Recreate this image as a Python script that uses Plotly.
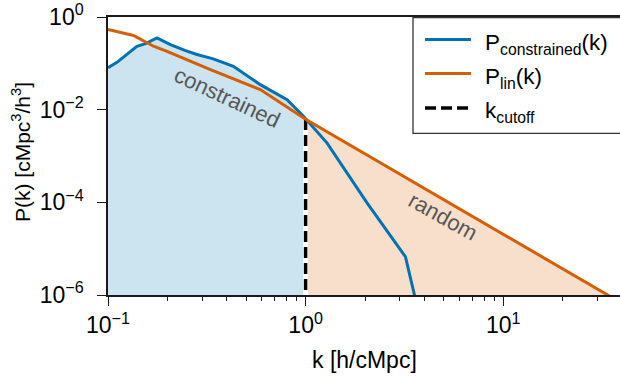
import plotly.graph_objects as go

# ---- data ----
k_con = [0.100, 0.111, 0.140, 0.155, 0.177, 0.207, 0.245, 0.282, 0.341, 0.431,
         0.590, 0.806, 0.975, 1.000, 1.285, 2.05, 3.20, 3.60]
P_con = [0.080, 0.105, 0.234, 0.267, 0.355, 0.254, 0.190, 0.155, 0.125, 0.086,
         0.0347, 0.0164, 0.0072, 0.0064, 0.0019, 9.6e-5, 6.7e-6, 8e-7]

k_lin = [0.100, 0.1345, 0.170, 0.199, 0.330, 0.590, 1.00, 1.50, 2.30, 3.81,
         7.67, 15.4, 32.9, 34.5]
P_lin = [0.537, 0.398, 0.234, 0.182, 0.0733, 0.0271, 0.0062, 0.00226, 7.8e-4,
         2.2e-4, 3.9e-5, 7.0e-6, 1.07e-6, 9.5e-7]

k_cut = 1.0
P_cut_top = 0.0062
P_floor = 1e-9

x_tickvals = [0.1, 1, 10]
x_ticktext = ["10<sup>\u22121</sup>", "10<sup>0</sup>", "10<sup>1</sup>"]
x_minor = [0.2, 0.3, 0.4, 0.5, 0.6, 0.7, 0.8, 0.9, 2, 3, 4, 5, 6, 7, 8, 9, 20, 30, 40]
y_tickvals = [1e-6, 1e-4, 1e-2, 1]
y_ticktext = ["10<sup>\u22126</sup>", "10<sup>\u22124</sup>", "10<sup>\u22122</sup>", "10<sup>0</sup>"]

BLUE = "#0072B2"
ORANGE = "#D55E00"
FONT = "Liberation Sans, Arial, Helvetica, sans-serif"
AX = "#1a1a1a"
FS = 23

fig = go.Figure()

# blue fill (constrained region, k <= k_cut)
bx = [k for k in k_con if k <= k_cut]
by = [p for k, p in zip(k_con, P_con) if k <= k_cut]
fig.add_trace(go.Scatter(x=bx + [bx[-1], bx[0]], y=by + [P_floor, P_floor],
                         fill="toself", fillcolor="rgba(0,114,178,0.2)",
                         line=dict(width=0), mode="lines", showlegend=False,
                         hoverinfo="skip"))
# orange fill (random region, k >= k_cut)
ox = [k for k in k_lin if k >= k_cut]
oy = [p for k, p in zip(k_lin, P_lin) if k >= k_cut]
fig.add_trace(go.Scatter(x=ox + [ox[-1], ox[0]], y=oy + [P_floor, P_floor],
                         fill="toself", fillcolor="rgba(213,94,0,0.2)",
                         line=dict(width=0), mode="lines", showlegend=False,
                         hoverinfo="skip"))
# cutoff line
fig.add_trace(go.Scatter(x=[k_cut, k_cut], y=[P_floor, P_cut_top], mode="lines",
                         line=dict(color="white", width=5), showlegend=False,
                         hoverinfo="skip"))
fig.add_trace(go.Scatter(x=[k_cut, k_cut], y=[P_floor, P_cut_top], mode="lines",
                         line=dict(color="black", width=3.5, dash="11px,5px"),
                         name="k_cutoff", showlegend=False))
# curves
fig.add_trace(go.Scatter(x=k_con, y=P_con, mode="lines",
                         line=dict(color=BLUE, width=3), name="P_constrained(k)",
                         showlegend=False))
fig.add_trace(go.Scatter(x=k_lin, y=P_lin, mode="lines",
                         line=dict(color=ORANGE, width=3), name="P_lin(k)",
                         showlegend=False))

W, H = 620, 376
ML, MR, MT, MB = 108, 0, 17, 81
PW, PH = W - ML - MR, H - MT - MB


def px(x):
    return (x - ML) / PW


def py(y):
    return (H - MB - y) / PH


shapes = [
    dict(type="rect", xref="paper", yref="paper", x0=px(413), x1=px(640),
         y0=py(133.3), y1=py(17.5), line=dict(color="#333333", width=1.3),
         fillcolor="white", layer="above"),
    dict(type="line", xref="paper", yref="paper", x0=px(425), x1=px(471),
         y0=py(39.5), y1=py(39.5), line=dict(color=BLUE, width=3)),
    dict(type="line", xref="paper", yref="paper", x0=px(425), x1=px(471),
         y0=py(73.5), y1=py(73.5), line=dict(color=ORANGE, width=3)),
    dict(type="line", xref="paper", yref="paper", x0=px(425), x1=px(471),
         y0=py(108), y1=py(108), line=dict(color="black", width=3.5, dash="11px,5px")),
]

LEG_FS = 22.5
annotations = [
    dict(text="P<sub>constrained</sub>(k)", x=px(483), y=py(44), xref="paper", yref="paper",
         xanchor="left", yanchor="middle", showarrow=False,
         font=dict(size=LEG_FS, color="black", family=FONT)),
    dict(text="P<sub>lin</sub>(k)", x=px(483), y=py(78), xref="paper", yref="paper",
         xanchor="left", yanchor="middle", showarrow=False,
         font=dict(size=LEG_FS, color="black", family=FONT)),
    dict(text="k<sub>cutoff</sub>", x=px(483), y=py(112), xref="paper", yref="paper",
         xanchor="left", yanchor="middle", showarrow=False,
         font=dict(size=LEG_FS, color="black", family=FONT)),
    dict(text="constrained", x=px(227), y=py(98), xref="paper", yref="paper",
         xanchor="center", yanchor="middle", textangle=25, showarrow=False,
         font=dict(size=22, color="#575757", family=FONT)),
    dict(text="random", x=px(443), y=py(216), xref="paper", yref="paper",
         xanchor="center", yanchor="middle", textangle=29, showarrow=False,
         font=dict(size=22, color="#575757", family=FONT)),
    dict(text="k [h/cMpc]", x=px(364.5), y=py(360), xref="paper", yref="paper",
         xanchor="center", yanchor="middle", showarrow=False,
         font=dict(size=FS, color="black", family=FONT)),
    dict(text="P(k) [cMpc<sup>3</sup>/h<sup>3</sup>]", x=px(21), y=py(152),
         xref="paper", yref="paper", xanchor="center", yanchor="middle",
         textangle=-90, showarrow=False,
         font=dict(size=21, color="black", family=FONT)),
]

fig.update_layout(
    width=W, height=H, autosize=False,
    margin=dict(l=ML, r=MR, t=MT, b=MB, pad=0),
    paper_bgcolor="white", plot_bgcolor="white",
    font=dict(family=FONT, size=FS, color="black"),
    showlegend=False,
    shapes=shapes, annotations=annotations,
    xaxis=dict(type="log", range=[-1, -1 + PW / 197.6], showgrid=False, zeroline=False,
               showline=True, linecolor=AX, linewidth=1.5, mirror=True,
               ticks="outside", ticklen=9, tickwidth=1.3, tickcolor=AX,
               tickvals=x_tickvals, ticktext=x_ticktext,
               tickfont=dict(size=FS, family=FONT, color="black"),
               minor=dict(ticks="outside", ticklen=4.5, tickwidth=1, tickcolor=AX,
                          tickvals=x_minor, showgrid=False)),
    yaxis=dict(type="log", range=[-6, 0], showgrid=False, zeroline=False,
               showline=True, linecolor=AX, linewidth=1.5, mirror=False,
               ticks="outside", ticklen=9, tickwidth=1.3, tickcolor=AX,
               tickvals=y_tickvals, ticktext=y_ticktext, ticklabelstandoff=9,
               tickfont=dict(size=FS, family=FONT, color="black")),
)

fig.write_html("out.html")
